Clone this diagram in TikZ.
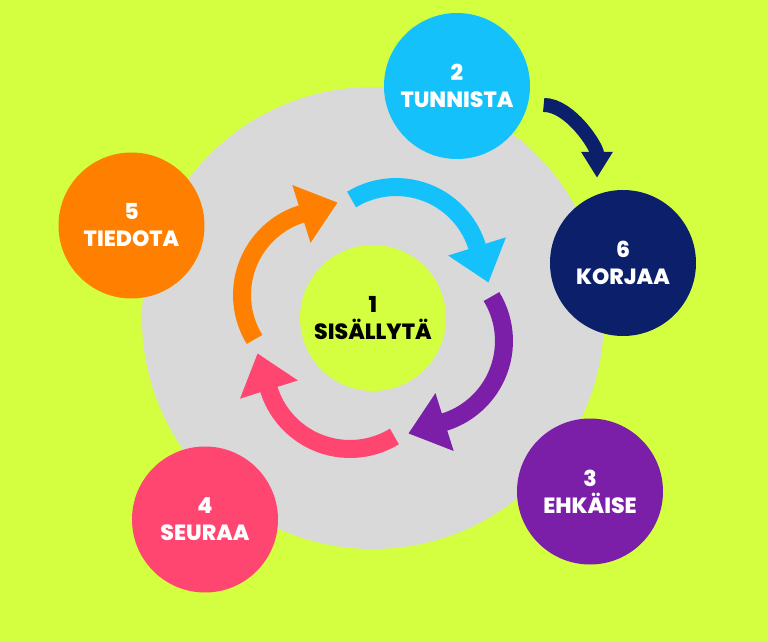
\documentclass[tikz,border=0pt]{standalone}
\usepackage{fontspec}
\setmainfont{Poppins}[BoldFont={Poppins ExtraBold}]
\usetikzlibrary{arrows.meta}
\definecolor{bglime}{HTML}{D4FF40}
\definecolor{ringgray}{HTML}{D9D9D9}
\definecolor{stcyan}{HTML}{14C1FA}
\definecolor{stnavy}{HTML}{0B1F6A}
\definecolor{stpurple}{HTML}{7B1FA8}
\definecolor{stpink}{HTML}{FF4670}
\definecolor{storange}{HTML}{FF8000}
\begin{document}
\begin{tikzpicture}[x=1pt, y=1pt,
  stage/.style = {circle, minimum size=146pt, inner sep=0pt, align=center, text=white, font=\bfseries\fontsize{22}{27}\selectfont},
  ring/.style = {line width=18pt, -{Triangle[length=38pt, width=58pt]}},
  link/.style = {line width=14pt, -{Triangle[length=26pt, width=30pt]}}]
\fill[bglime] (-373,-324) rectangle (395,318);
\fill[ringgray] (0,0) circle (231);
% inner cycle
\foreach \col [count=\k from 0] in {stcyan, stpurple, stpink, storange} {
  \begin{scope}[rotate=-90*\k]
    \draw[ring, \col] (23,46) ++(121.5:85) arc[start angle=121.5, end angle=17.5, radius=85] -- ++(-72.5:38);
  \end{scope}
}
\node[stage, fill=bglime, text=black] (s1) at (0,0) {1\\SISÄLLYTÄ};
\node[stage, fill=stcyan] (s2) at (84,232) {2\\TUNNISTA};
\node[stage, fill=stpurple] (s3) at (217,-173.5) {3\\EHKÄISE};
\node[stage, fill=stpink] (s4) at (-168,-201.5) {4\\SEURAA};
\node[stage, fill=storange] (s5) at (-241.5,92.5) {5\\TIEDOTA};
\node[stage, fill=stnavy] (s6) at (250,55) {6\\KORJAA};
\draw[link, stnavy, shorten <=16pt, shorten >=12pt] (s2.-15) to[out=0, in=90] ([xshift=-26pt]s6.north);
\end{tikzpicture}
\end{document}
